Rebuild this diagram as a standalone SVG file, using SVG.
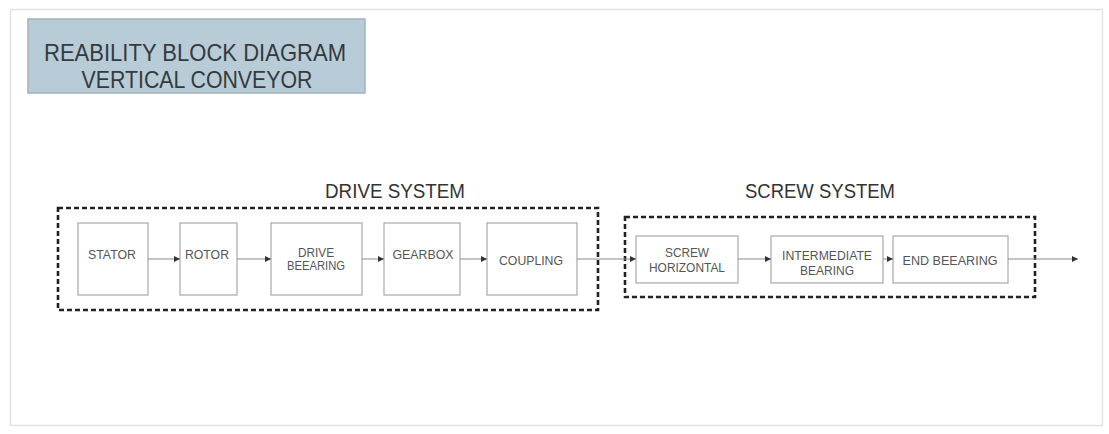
<svg xmlns="http://www.w3.org/2000/svg" width="1109" height="434" viewBox="0 0 1109 434">
  <defs>
    <marker id="arrow" viewBox="0 0 6 6" refX="6" refY="3" markerWidth="6" markerHeight="6" orient="auto" markerUnits="userSpaceOnUse">
      <path d="M0,0 L6,3 L0,6 Z" fill="#333"/>
    </marker>
    <style>
      .frame { fill: #ffffff; stroke: #e2e2e2; stroke-width: 1.5; }
      .title-box { fill: #b8ccd7; stroke: #9fb3bf; stroke-width: 1.5; }
      .title { font-family: "Liberation Sans", Arial, sans-serif; font-size: 24px; fill: #353a3f; text-anchor: middle; }
      .group { fill: none; stroke: #222; stroke-width: 2.6; stroke-dasharray: 5 3; }
      .group-label { font-family: "Liberation Sans", Arial, sans-serif; font-size: 20px; fill: #333; text-anchor: middle; }
      .node rect { fill: #ffffff; stroke: #a8a8a8; stroke-width: 1.2; }
      .node text { font-family: "Liberation Sans", Arial, sans-serif; font-size: 12.5px; fill: #555; text-anchor: middle; }
      .link { fill: none; stroke: #8a8a8a; stroke-width: 1; marker-end: url(#arrow); }
    </style>
  </defs>

  <!-- page frame -->
  <rect class="frame" x="10.5" y="9.5" width="1092" height="416"/>

  <!-- heading -->
  <g id="title">
    <rect class="title-box" x="28" y="19" width="337" height="74"/>
    <text class="title" x="195" y="61" textLength="302" lengthAdjust="spacingAndGlyphs">REABILITY BLOCK DIAGRAM</text>
    <text class="title" x="197" y="88" textLength="231" lengthAdjust="spacingAndGlyphs">VERTICAL CONVEYOR</text>
  </g>

  <!-- subsystem boundaries -->
  <g id="drive-system">
    <rect class="group" x="58" y="208" width="540" height="102"/>
    <text class="group-label" x="395" y="198" textLength="140" lengthAdjust="spacingAndGlyphs">DRIVE SYSTEM</text>
  </g>
  <g id="screw-system">
    <rect class="group" x="625" y="217" width="410" height="80"/>
    <text class="group-label" x="820" y="198" textLength="150" lengthAdjust="spacingAndGlyphs">SCREW SYSTEM</text>
  </g>

  <!-- drive blocks -->
  <g id="stator" class="node">
    <rect x="78" y="223" width="70" height="72"/>
    <text x="112" y="259" textLength="48" lengthAdjust="spacingAndGlyphs">STATOR</text>
  </g>
  <g id="rotor" class="node">
    <rect x="180" y="223" width="57" height="72"/>
    <text x="207" y="259" textLength="44" lengthAdjust="spacingAndGlyphs">ROTOR</text>
  </g>
  <g id="drive-beearing" class="node">
    <rect x="271" y="223" width="91" height="72"/>
    <text x="316" y="257" textLength="36" lengthAdjust="spacingAndGlyphs">DRIVE</text>
    <text x="316" y="270" textLength="58" lengthAdjust="spacingAndGlyphs">BEEARING</text>
  </g>
  <g id="gearbox" class="node">
    <rect x="384" y="223" width="76" height="72"/>
    <text x="423" y="259" textLength="61" lengthAdjust="spacingAndGlyphs">GEARBOX</text>
  </g>
  <g id="coupling" class="node">
    <rect x="487" y="223" width="90" height="72"/>
    <text x="531" y="265" textLength="64" lengthAdjust="spacingAndGlyphs">COUPLING</text>
  </g>

  <!-- screw blocks -->
  <g id="screw-horizontal" class="node">
    <rect x="636" y="236" width="102" height="47"/>
    <text x="687" y="257" textLength="44" lengthAdjust="spacingAndGlyphs">SCREW</text>
    <text x="687" y="272" textLength="76" lengthAdjust="spacingAndGlyphs">HORIZONTAL</text>
  </g>
  <g id="intermediate-bearing" class="node">
    <rect x="771" y="236" width="112" height="47"/>
    <text x="827" y="260" textLength="90" lengthAdjust="spacingAndGlyphs">INTERMEDIATE</text>
    <text x="827" y="275" textLength="54" lengthAdjust="spacingAndGlyphs">BEARING</text>
  </g>
  <g id="end-beearing" class="node">
    <rect x="893" y="236" width="115" height="47"/>
    <text x="950" y="265" textLength="95" lengthAdjust="spacingAndGlyphs">END BEEARING</text>
  </g>

  <!-- connectors -->
  <g id="connectors">
    <line class="link" x1="148" y1="259" x2="180" y2="259"/>
    <line class="link" x1="237" y1="259" x2="271" y2="259"/>
    <line class="link" x1="362" y1="259" x2="384" y2="259"/>
    <line class="link" x1="460" y1="259" x2="487" y2="259"/>
    <line class="link" x1="577" y1="259" x2="636" y2="259"/>
    <line class="link" x1="738" y1="259" x2="771" y2="259"/>
    <line class="link" x1="883" y1="259" x2="893" y2="259"/>
    <line class="link" x1="1008" y1="259" x2="1078" y2="259"/>
  </g>
</svg>
